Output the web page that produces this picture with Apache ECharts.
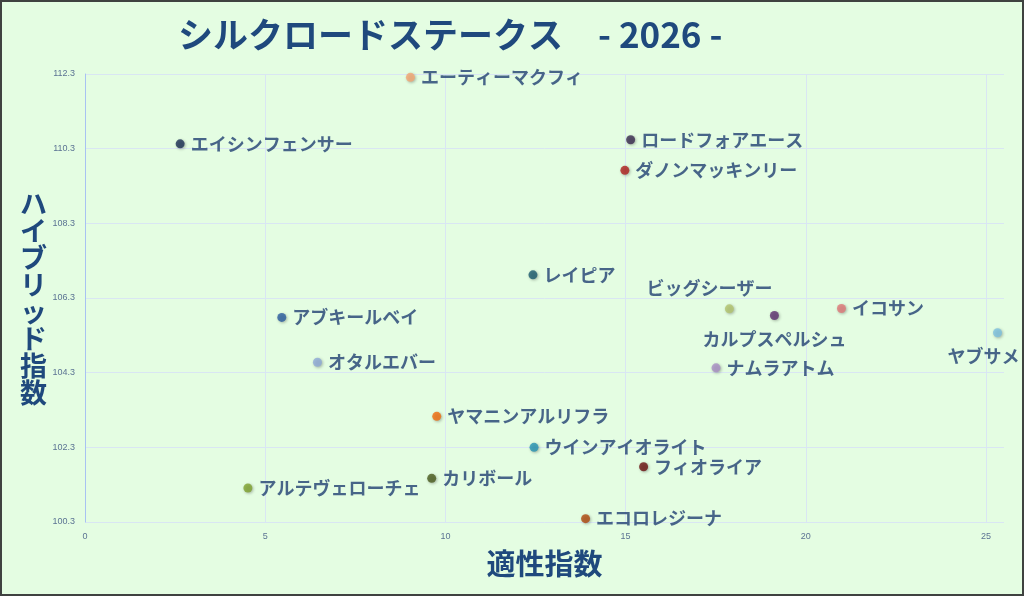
<!DOCTYPE html>
<html><head><meta charset="utf-8">
<script src="https://cdn.jsdelivr.net/npm/echarts@6/dist/echarts.min.js"></script>
<style>html,body{margin:0;padding:0;background:#e4fde2;}#c{width:1024px;height:596px;}</style>
</head><body><div id="c"></div>
<script>
const names = ['エーティーマクフィ','エイシンフェンサー','ロードフォアエース','ダノンマッキンリー','レイピア','ビッグシーザー','カルプスペルシュ','イコサン','ヤブサメ','アブキールベイ','オタルエバー','ナムラアトム','ヤマニンアルリフラ','ウインアイオライト','フィオライア','カリボール','アルテヴェローチェ','エコロレジーナ'];
const tekisei = [9.03, 2.64, 15.14, 14.98, 12.43, 17.88, 19.13, 20.99, 25.32, 5.46, 6.45, 17.51, 9.76, 12.46, 15.5, 9.62, 4.52, 13.89];
const hybrid = [112.21, 110.43, 110.54, 109.72, 106.92, 106.01, 105.83, 106.02, 105.37, 105.78, 104.58, 104.43, 103.13, 102.3, 101.78, 101.47, 101.21, 100.39];
const xTicks = [0, 5, 10, 15, 20, 25];
const yTicks = [100.3, 102.3, 104.3, 106.3, 108.3, 110.3, 112.3];
const colors = ['#f5a673','#1c2f55','#3a2a50','#b0201e','#1c5a6e','#b3c46e','#5e3070','#e07878','#7dc0e0','#2b5ca0','#8eaad8','#a98ec6','#f36c0c','#2794b4','#6b1010','#4b5c1e','#7fa22e','#b0480e'];
const labelPos = {
  'ビッグシーザー': {position:'top', offset:[-20,-2]},
  'カルプスペルシュ': {position:'bottom', distance:10},
  'ヤブサメ': {position:'bottom', offset:[-14,0], distance:10}
};
const title = 'シルクロードステークス　- 2026 -';
const yName = 'ハイブリッド指数';
const xName = '適性指数';

const ff = '"Noto Sans CJK JP", "Noto Sans", sans-serif';
const gridC = '#d9e6f3';
const data = names.map((n,i)=>{
  const lp = labelPos[n] || {position:'right', distance:6};
  return {name:n, value:[tekisei[i], hybrid[i]], itemStyle:{color:colors[i]}, label:Object.assign({}, lp)};
});
const chart = echarts.init(document.getElementById('c'), null, {renderer:'canvas'});
chart.setOption({
  backgroundColor:'#e4fde2',
  animation:false,
  title:{text:title, left:173, top:12, textStyle:{fontFamily:ff, fontSize:35, fontWeight:'bold', color:'#1f497d'}},
  grid:{left:85, right:20, top:74, bottom:74},
  xAxis:{type:'value', min:xTicks[0], max:25.5, interval:5,
    name:xName, nameLocation:'middle', nameGap:27,
    nameTextStyle:{fontFamily:ff, fontSize:29, fontWeight:'bold', color:'#1f497d'},
    axisLine:{show:false}, axisTick:{show:false},
    axisLabel:{fontSize:9, color:'#5b7393', margin:10, showMaxLabel:false,
      formatter:v=> xTicks.indexOf(v)>=0 ? String(v) : ''},
    splitLine:{lineStyle:{color:xTicks.map(()=>gridC).concat(['rgba(0,0,0,0)']), width:1}}},
  yAxis:{type:'value', min:yTicks[0], max:yTicks[yTicks.length-1], interval:2,
    axisLine:{show:true, lineStyle:{color:'#a8c2f2'}}, axisTick:{show:false},
    axisLabel:{fontSize:9, color:'#5b7393', margin:10, formatter:v=>Number(v).toFixed(1)},
    splitLine:{lineStyle:{color:gridC, width:1}}},
  graphic:[
    {type:'text', left:20, top:190, style:{text:yName.split('').join('\n'), fontFamily:ff, fontSize:27, fontWeight:'bold', fill:'#1f497d', lineHeight:27, align:'center'}},
    {type:'rect', shape:{x:1, y:1, width:1022, height:594}, style:{fill:'none', stroke:'#3f4240', lineWidth:2}, z:100}
  ],
  series:[{type:'scatter', symbolSize:9, clip:false, data:data,
    itemStyle:{shadowBlur:3, shadowColor:'rgba(0,0,0,0.35)', shadowOffsetX:1, shadowOffsetY:1},
    label:{show:true, formatter:'{b}', fontFamily:ff, fontSize:18, fontWeight:'bold', color:'#1f3f72'}}]
});
</script></body></html>
